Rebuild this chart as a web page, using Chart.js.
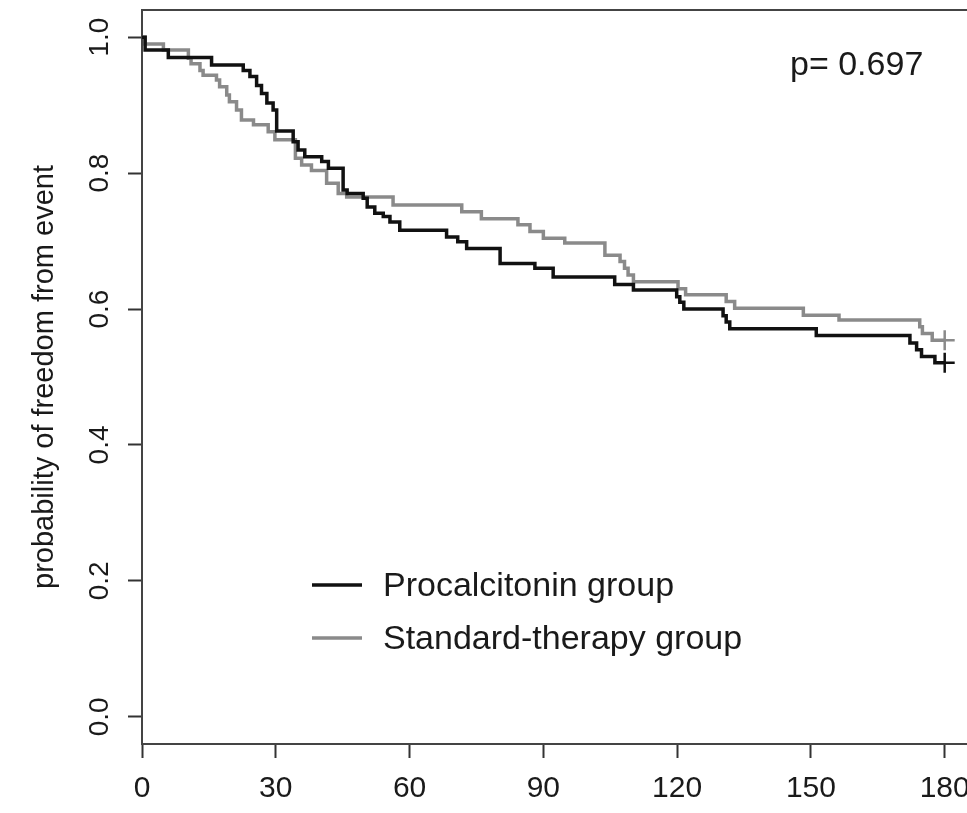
<!DOCTYPE html>
<html lang="en">
<head>
    <meta charset="UTF-8">
    <title>Kaplan-Meier: freedom from event</title>
    <script src="https://cdn.jsdelivr.net/npm/chart.js"></script>
    <style>
        html, body { margin: 0; padding: 0; background: #fff; }
        canvas { display: block; }
    </style>
</head>
<body>
    <canvas id="kmChart" width="967" height="813"></canvas>

    <script>
        // Procalcitonin group: day of event, survival after the step
        const procDays = [0, 0.7, 5.9, 15.6, 22.7, 24.2, 25.7, 26.8, 28.0, 29.4, 30.2, 33.9, 35.0, 36.5,
            40.3, 41.8, 45.1, 46.0, 49.6, 50.5, 52.2, 54.1, 55.6, 57.8, 68.3, 70.8, 72.8, 80.3, 88.1,
            92.2, 106.0, 110.2, 119.9, 120.6, 121.5, 130.3, 131.0, 131.8, 151.2, 172.2, 173.7, 174.8,
            177.8, 180];
        const procSurv = [1.0, 0.981, 0.970, 0.959, 0.951, 0.942, 0.929, 0.917, 0.903, 0.893, 0.862, 0.846, 0.834, 0.824,
            0.817, 0.807, 0.775, 0.770, 0.763, 0.750, 0.741, 0.736, 0.728, 0.716, 0.706, 0.699, 0.689, 0.667, 0.660,
            0.647, 0.636, 0.628, 0.618, 0.610, 0.600, 0.590, 0.581, 0.571, 0.561, 0.550, 0.540, 0.530,
            0.521, 0.521];

        // Standard-therapy group
        const stdDays = [0, 0.7, 4.8, 10.4, 11.0, 13.0, 13.7, 16.7, 17.4, 19.0, 19.6, 21.2, 22.3, 25.0,
            28.3, 29.8, 34.4, 35.8, 38.0, 41.4, 44.0, 45.9, 56.3, 71.7, 76.1, 84.3, 87.0, 90.0, 94.8,
            103.8, 107.2, 108.2, 109.0, 110.2, 120.2, 121.9, 131.0, 132.9, 148.3, 156.3, 174.4, 175.0,
            177.2, 180];
        const stdSurv = [1.0, 0.990, 0.981, 0.969, 0.961, 0.951, 0.944, 0.937, 0.927, 0.915, 0.905, 0.893, 0.878, 0.871,
            0.861, 0.849, 0.822, 0.812, 0.804, 0.785, 0.770, 0.765, 0.753, 0.743, 0.733, 0.724, 0.714, 0.704, 0.697,
            0.679, 0.670, 0.660, 0.650, 0.640, 0.630, 0.621, 0.611, 0.601, 0.591, 0.584, 0.574, 0.564,
            0.554, 0.554];

        const groupNames = ["Procalcitonin group", "Standard-therapy group"];
        const xTickVals = [0, 30, 60, 90, 120, 150, 180];
        const yTickVals = [0, 0.2, 0.4, 0.6, 0.8, 1.0];
        const pValueText = "p= 0.697";

        const FONT = "'Liberation Sans', Arial, Helvetica, sans-serif";
        const BLACK = "#111111";
        const GREY = "#8a8a8a";

        function toPoints(days, surv) {
            return days.map((d, i) => ({ x: d, y: surv[i] }));
        }

        // only the last point gets the censoring "+"
        function censorRadius(ctx) {
            return ctx.dataIndex === ctx.dataset.data.length - 1 ? 10 : 0;
        }

        // stop the tick labels from pushing the plot box inwards
        function noPad(s) {
            s.paddingTop = 0;
            s.paddingBottom = 0;
            s.paddingLeft = 0;
            s.paddingRight = 0;
        }

        // box top line, legend and p value
        const extrasPlugin = {
            id: "extras",
            afterDraw(chart) {
                const ctx = chart.ctx;
                const area = chart.chartArea;
                ctx.save();
                ctx.strokeStyle = "#444";
                ctx.lineWidth = 2;
                ctx.beginPath();
                ctx.moveTo(area.left, area.top);
                ctx.lineTo(area.right, area.top);
                ctx.stroke();

                ctx.fillStyle = "#1a1a1a";
                ctx.font = "34px " + FONT;
                ctx.textBaseline = "middle";
                ctx.textAlign = "left";
                ctx.fillText(pValueText, 790, 66);

                const legendY = [585, 638];
                chart.data.datasets.forEach((ds, i) => {
                    ctx.strokeStyle = ds.borderColor;
                    ctx.lineWidth = 3.5;
                    ctx.beginPath();
                    ctx.moveTo(312, legendY[i]);
                    ctx.lineTo(362, legendY[i]);
                    ctx.stroke();
                    ctx.fillStyle = "#1a1a1a";
                    ctx.fillText(ds.label, 383, legendY[i] + 2);
                });
                ctx.restore();
            }
        };

        const ctx = document.getElementById("kmChart").getContext("2d");
        new Chart(ctx, {
            type: "line",
            data: {
                datasets: [
                    {
                        label: groupNames[0],
                        data: toPoints(procDays, procSurv),
                        borderColor: BLACK,
                        backgroundColor: BLACK,
                        borderWidth: 3.5,
                        stepped: "before",
                        pointStyle: "cross",
                        pointRadius: censorRadius,
                        pointBorderWidth: 2.5,
                        pointHoverRadius: 0
                    },
                    {
                        label: groupNames[1],
                        data: toPoints(stdDays, stdSurv),
                        borderColor: GREY,
                        backgroundColor: GREY,
                        borderWidth: 3.5,
                        stepped: "before",
                        pointStyle: "cross",
                        pointRadius: censorRadius,
                        pointBorderWidth: 2.5,
                        pointHoverRadius: 0
                    }
                ]
            },
            options: {
                responsive: false,
                animation: false,
                devicePixelRatio: 1,
                layout: { autoPadding: false, padding: { top: 10, right: 0, bottom: 0, left: 0 } },
                plugins: {
                    legend: { display: false },
                    tooltip: { enabled: false }
                },
                scales: {
                    x: {
                        type: "linear",
                        min: 0,
                        max: 185,
                        afterBuildTicks: s => { s.ticks = xTickVals.map(v => ({ value: v })); },
                        afterFit: s => { s.height = 69; noPad(s); },
                        ticks: {
                            font: { size: 30, family: FONT },
                            color: "#1a1a1a",
                            padding: 13,
                            maxRotation: 0
                        },
                        grid: {
                            drawOnChartArea: false,
                            drawTicks: true,
                            tickLength: 14,
                            tickColor: "#333",
                            tickWidth: 2
                        },
                        border: { display: true, color: "#444", width: 2 }
                    },
                    y: {
                        type: "linear",
                        min: -0.04,
                        max: 1.04,
                        afterBuildTicks: s => { s.ticks = yTickVals.map(v => ({ value: v })); },
                        afterFit: s => { s.width = 142; noPad(s); },
                        ticks: {
                            font: { size: 28, family: FONT },
                            color: "#1a1a1a",
                            minRotation: 90,
                            maxRotation: 90,
                            crossAlign: "center",
                            padding: 8,
                            callback: v => v.toFixed(1)
                        },
                        grid: {
                            drawOnChartArea: false,
                            drawTicks: true,
                            tickLength: 14,
                            tickColor: "#333",
                            tickWidth: 2
                        },
                        border: { display: true, color: "#444", width: 2 },
                        title: {
                            display: true,
                            text: "probability of freedom from event",
                            font: { size: 29, family: FONT },
                            color: "#1a1a1a",
                            padding: { top: 28, bottom: 0 }
                        }
                    }
                }
            },
            plugins: [extrasPlugin]
        });
    </script>
</body>
</html>
